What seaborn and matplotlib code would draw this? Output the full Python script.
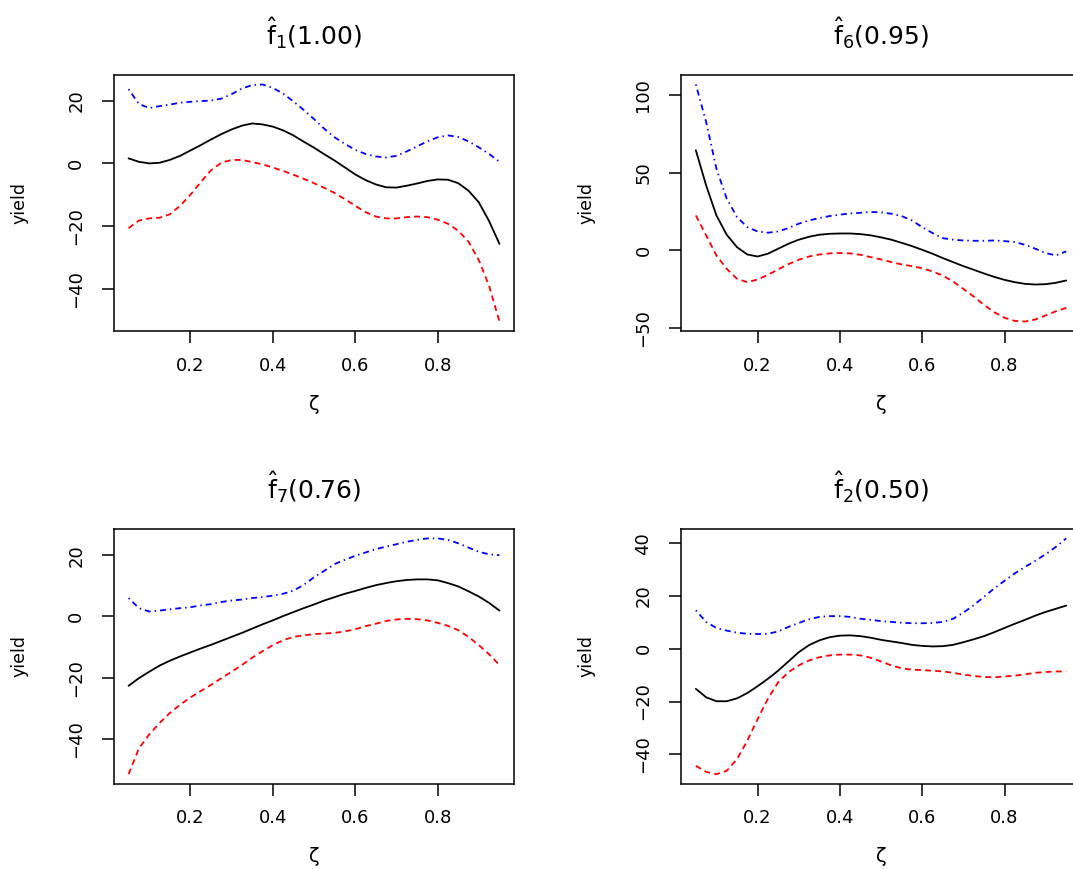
import pandas as pd
import matplotlib
matplotlib.use('Agg')
import matplotlib.pyplot as plt
import seaborn as sns

zeta = [0.050, 0.075, 0.100, 0.125, 0.150, 0.175, 0.200, 0.225, 0.250, 0.275,
        0.300, 0.325, 0.350, 0.375, 0.400, 0.425, 0.450, 0.475, 0.500, 0.525,
        0.550, 0.575, 0.600, 0.625, 0.650, 0.675, 0.700, 0.725, 0.750, 0.775,
        0.800, 0.825, 0.850, 0.875, 0.900, 0.925, 0.950]

# f1 (1.00)
f1_fit = [1.6, 0.5, 0.0, 0.2, 1.1, 2.4, 4.1, 5.8, 7.6, 9.3,
          10.8, 12.0, 12.7, 12.4, 11.7, 10.5, 8.9, 6.9, 5.0, 2.9,
          0.9, -1.3, -3.5, -5.3, -6.7, -7.6, -7.7, -7.1, -6.4, -5.6,
          -5.1, -5.2, -6.3, -8.7, -12.4, -18.4, -25.6]
f1_upper = [23.6, 18.9, 17.6, 18.2, 18.7, 19.3, 19.6, 19.8, 20.0, 20.6,
            22.0, 23.8, 24.9, 25.1, 24.0, 22.2, 19.7, 17.0, 14.1, 11.0,
            8.3, 6.2, 4.3, 3.0, 2.2, 1.9, 2.4, 3.8, 5.4, 7.0,
            8.3, 8.9, 8.4, 7.0, 5.1, 3.0, 0.5]
f1_lower = [-20.6, -18.2, -17.5, -17.3, -16.2, -13.5, -10.0, -6.0, -2.2, 0.2,
            1.1, 1.1, 0.4, -0.3, -1.3, -2.4, -3.6, -4.9, -6.3, -7.8,
            -9.4, -11.4, -13.5, -15.5, -16.9, -17.5, -17.5, -17.1, -16.9, -17.1,
            -17.9, -19.2, -21.4, -24.9, -30.8, -39.0, -50.3]

# f6 (0.95)
f6_fit = [64.4, 41.8, 22.5, 10.1, 2.1, -2.6, -3.9, -2.1, 1.1, 4.3,
          6.9, 8.8, 10.1, 10.7, 10.9, 10.9, 10.5, 9.7, 8.4, 6.9,
          4.9, 2.8, 0.4, -2.1, -4.9, -7.5, -10.1, -12.4, -14.8, -17.0,
          -18.9, -20.4, -21.5, -21.9, -21.7, -20.8, -19.3]
f6_upper = [106.7, 82.6, 52.6, 33.3, 21.5, 15.0, 12.2, 11.4, 12.2, 14.4,
            17.2, 19.3, 20.8, 22.1, 23.0, 23.8, 24.2, 24.7, 24.5, 23.6,
            22.1, 19.3, 15.0, 11.2, 7.9, 6.9, 6.4, 6.2, 6.2, 6.4,
            6.0, 5.4, 3.6, 1.1, -1.7, -3.2, -0.6]
f6_lower = [22.5, 9.7, -3.2, -11.8, -18.2, -20.4, -18.7, -15.7, -12.2, -8.8,
            -6.0, -3.9, -2.6, -1.9, -1.7, -1.9, -2.8, -4.3, -5.8, -7.5,
            -9.0, -10.1, -11.4, -13.5, -16.1, -20.0, -24.7, -29.6, -35.0, -39.7,
            -43.3, -45.3, -45.7, -44.4, -41.8, -39.1, -36.9]

# f7 (0.76)
f7_fit = [-22.7, -20.2, -18.1, -16.1, -14.5, -13.1, -11.8, -10.5, -9.3, -8.0,
          -6.7, -5.4, -4.0, -2.6, -1.3, 0.1, 1.4, 2.7, 3.9, 5.2,
          6.3, 7.4, 8.3, 9.3, 10.2, 10.9, 11.5, 11.9, 12.1, 12.1,
          11.8, 10.9, 9.8, 8.2, 6.5, 4.4, 1.9]
f7_upper = [6.0, 2.7, 1.6, 1.9, 2.3, 2.7, 3.0, 3.6, 4.0, 4.7,
            5.2, 5.5, 6.0, 6.3, 6.8, 7.4, 8.4, 10.3, 12.8, 14.9,
            17.1, 18.5, 19.8, 20.9, 22.0, 22.8, 23.6, 24.4, 25.0, 25.5,
            25.5, 25.0, 23.9, 22.5, 21.1, 20.3, 20.0]
f7_lower = [-51.6, -43.2, -38.6, -34.9, -31.6, -28.9, -26.5, -24.4, -22.4, -20.2,
            -18.1, -15.9, -13.5, -11.4, -9.4, -7.8, -6.7, -6.2, -5.8, -5.6,
            -5.4, -4.9, -4.2, -3.2, -2.4, -1.5, -1.0, -0.8, -0.9, -1.3,
            -2.1, -3.1, -4.5, -6.7, -9.4, -12.4, -15.9]

# f2 (0.50)
f2_fit = [-15.2, -18.4, -19.9, -19.9, -18.8, -16.8, -14.2, -11.4, -8.3, -4.8,
          -1.3, 1.4, 3.2, 4.4, 5.0, 5.1, 4.8, 4.2, 3.4, 2.8,
          2.2, 1.5, 1.1, 0.9, 1.0, 1.5, 2.5, 3.6, 4.8, 6.3,
          7.9, 9.5, 11.0, 12.6, 14.0, 15.2, 16.4]
f2_upper = [14.6, 10.2, 7.9, 6.9, 6.1, 5.7, 5.6, 5.7, 6.6, 8.3,
            9.8, 11.2, 12.1, 12.4, 12.4, 12.1, 11.4, 11.0, 10.5, 10.2,
            9.9, 9.7, 9.7, 9.8, 10.2, 11.4, 13.7, 16.5, 19.7, 22.9,
            25.8, 28.6, 31.1, 33.4, 35.9, 38.7, 41.9]
f2_lower = [-44.4, -46.7, -47.6, -46.3, -41.9, -34.9, -26.7, -19.0, -12.7, -8.9,
            -6.3, -4.4, -3.2, -2.5, -2.2, -2.2, -2.5, -3.4, -4.8, -6.3,
            -7.4, -7.9, -8.1, -8.3, -8.6, -9.1, -9.8, -10.3, -10.7, -10.8,
            -10.5, -10.2, -9.7, -9.1, -8.8, -8.6, -8.6]

titles = [r'$\hat{\mathrm{f}}_{1}$(1.00)', r'$\hat{\mathrm{f}}_{6}$(0.95)',
          r'$\hat{\mathrm{f}}_{7}$(0.76)', r'$\hat{\mathrm{f}}_{2}$(0.50)']
panels = [(f1_fit, f1_upper, f1_lower), (f6_fit, f6_upper, f6_lower),
          (f7_fit, f7_upper, f7_lower), (f2_fit, f2_upper, f2_lower)]
yticks = [[-40, -20, 0, 20], [-50, 0, 50, 100],
          [-40, -20, 0, 20], [-40, -20, 0, 20, 40]]
xticks = [0.2, 0.4, 0.6, 0.8]

sns.set_style('ticks')
plt.rcParams['font.family'] = ['DejaVu Sans']
plt.rcParams['mathtext.fontset'] = 'dejavusans'
plt.rcParams['text.color'] = 'black'
plt.rcParams['axes.labelcolor'] = 'black'
plt.rcParams['xtick.color'] = 'black'
plt.rcParams['ytick.color'] = 'black'

fig = plt.figure(figsize=(10.73, 8.69), dpi=100)
# right-hand panels run slightly past the figure edge, as in the original
boxes = [[0.106, 0.6191, 0.3733, 0.2946], [0.6347, 0.6191, 0.3728, 0.2946],
         [0.106, 0.0982, 0.3733, 0.2931], [0.6347, 0.0982, 0.3728, 0.2931]]

for i in range(4):
    ax = fig.add_axes(boxes[i])
    fit, upper, lower = panels[i]
    df = pd.DataFrame({'zeta': zeta, 'fit': fit, 'upper': upper, 'lower': lower})
    sns.lineplot(data=df, x='zeta', y='fit', ax=ax, color='black', lw=1.3,
                 estimator=None, errorbar=None)
    sns.lineplot(data=df, x='zeta', y='upper', ax=ax, color='#0000FF', lw=1.3,
                 linestyle=(0, (0.8, 2.2, 3.3, 2.2)), estimator=None, errorbar=None)
    sns.lineplot(data=df, x='zeta', y='lower', ax=ax, color='#FF0000', lw=1.3,
                 linestyle=(0, (3.3, 2.3)), estimator=None, errorbar=None)
    ax.margins(x=0.04, y=0.04)
    ax.set_xticks(xticks)
    ax.set_xticklabels(['0.2', '0.4', '0.6', '0.8'])
    ax.set_yticks(yticks[i])
    for s in ax.spines.values():
        s.set_visible(True)
        s.set_linewidth(1.1)
        s.set_color('black')
    ax.tick_params(length=8.6, width=1.1, labelsize=13, direction='out', color='black')
    ax.tick_params(axis='x', pad=10)
    ax.tick_params(axis='y', pad=12)
    plt.setp(ax.get_yticklabels(), rotation=90, va='center')
    ax.set_xlabel('ζ', fontsize=14)
    ax.xaxis.set_label_coords(0.5, -0.25)
    ax.set_ylabel('yield', fontsize=12.5)
    ax.yaxis.set_label_coords(-0.213, 0.5)
    ax.set_title(titles[i], fontsize=18, pad=22)

plt.savefig('out.png', dpi=100)
